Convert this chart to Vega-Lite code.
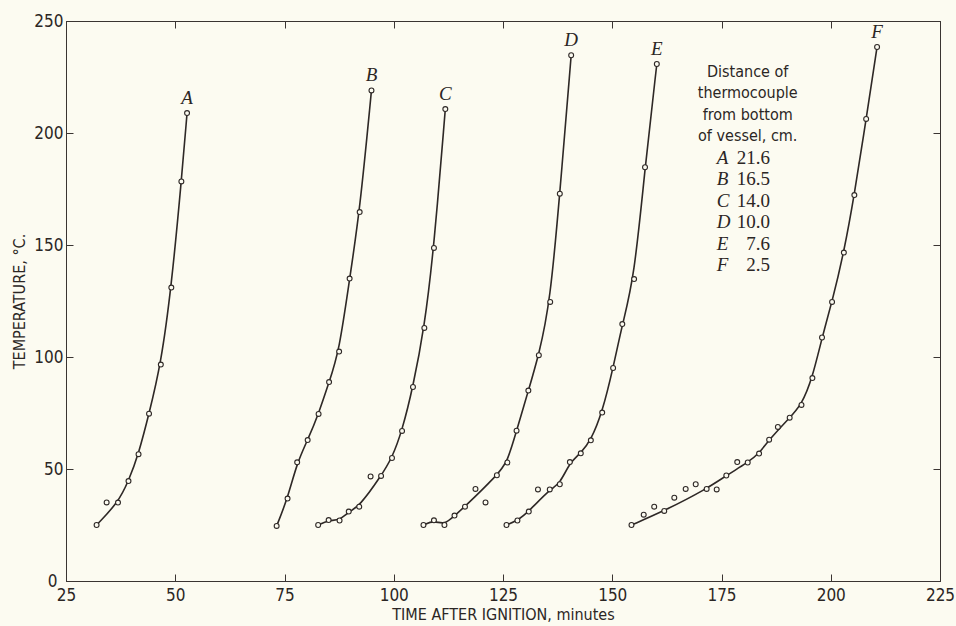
{
  "$schema": "https://vega.github.io/schema/vega-lite/v6.json",
  "width": 874,
  "height": 560,
  "autosize": {"type": "none"},
  "padding": {"left": 66, "top": 21, "right": 16, "bottom": 45},
  "background": "#fcfbf1",
  "config": {
    "view": {"stroke": "#3a3432", "strokeWidth": 1},
    "axis": {
      "domainColor": "#3a3432",
      "tickColor": "#3a3432",
      "labelColor": "#2b2624",
      "titleColor": "#2b2624",
      "labelFont": "DejaVu Sans Condensed",
      "titleFont": "DejaVu Sans Condensed",
      "labelFontSize": 17,
      "titleFontSize": 16,
      "titleFontWeight": "normal",
      "grid": false,
      "tickSize": -7,
      "labelFlush": false,
      "labelOverlap": false,
      "labelBound": false
    }
  },
  "datasets": {
    "pts": [
      {"curve": "A", "time": 32.0, "temp": 25.0, "fit": true},
      {"curve": "A", "time": 34.3, "temp": 35.1, "fit": false},
      {"curve": "A", "time": 36.9, "temp": 35.0, "fit": true},
      {"curve": "A", "time": 39.3, "temp": 44.6, "fit": true},
      {"curve": "A", "time": 41.6, "temp": 56.6, "fit": true},
      {"curve": "A", "time": 44.0, "temp": 74.7, "fit": true},
      {"curve": "A", "time": 46.7, "temp": 96.6, "fit": true},
      {"curve": "A", "time": 49.1, "temp": 131.0, "fit": true},
      {"curve": "A", "time": 51.4, "temp": 178.4, "fit": true},
      {"curve": "A", "time": 52.7, "temp": 208.9, "fit": true},

      {"curve": "B", "time": 73.2, "temp": 24.6, "fit": true},
      {"curve": "B", "time": 75.7, "temp": 36.8, "fit": true},
      {"curve": "B", "time": 77.9, "temp": 53.0, "fit": true},
      {"curve": "B", "time": 80.3, "temp": 62.9, "fit": true},
      {"curve": "B", "time": 82.8, "temp": 74.6, "fit": true},
      {"curve": "B", "time": 85.2, "temp": 88.8, "fit": true},
      {"curve": "B", "time": 87.5, "temp": 102.4, "fit": true},
      {"curve": "B", "time": 89.9, "temp": 135.0, "fit": true},
      {"curve": "B", "time": 92.2, "temp": 164.7, "fit": true},
      {"curve": "B", "time": 94.9, "temp": 219.0, "fit": true},

      {"curve": "C", "time": 82.7, "temp": 25.0, "fit": true},
      {"curve": "C", "time": 85.1, "temp": 27.2, "fit": true},
      {"curve": "C", "time": 87.6, "temp": 27.0, "fit": true},
      {"curve": "C", "time": 89.7, "temp": 31.0, "fit": true},
      {"curve": "C", "time": 92.1, "temp": 33.2, "fit": true},
      {"curve": "C", "time": 94.7, "temp": 46.7, "fit": false},
      {"curve": "C", "time": 97.1, "temp": 46.9, "fit": true},
      {"curve": "C", "time": 99.6, "temp": 54.9, "fit": true},
      {"curve": "C", "time": 101.9, "temp": 67.0, "fit": true},
      {"curve": "C", "time": 104.4, "temp": 86.6, "fit": true},
      {"curve": "C", "time": 107.0, "temp": 113.0, "fit": true},
      {"curve": "C", "time": 109.2, "temp": 148.7, "fit": true},
      {"curve": "C", "time": 111.8, "temp": 210.7, "fit": true},

      {"curve": "D", "time": 106.8, "temp": 25.0, "fit": true},
      {"curve": "D", "time": 109.2, "temp": 27.1, "fit": true},
      {"curve": "D", "time": 111.6, "temp": 25.0, "fit": true},
      {"curve": "D", "time": 113.9, "temp": 29.2, "fit": true},
      {"curve": "D", "time": 116.3, "temp": 33.2, "fit": true},
      {"curve": "D", "time": 118.7, "temp": 41.1, "fit": false},
      {"curve": "D", "time": 121.0, "temp": 35.1, "fit": false},
      {"curve": "D", "time": 123.6, "temp": 47.2, "fit": true},
      {"curve": "D", "time": 126.0, "temp": 52.9, "fit": true},
      {"curve": "D", "time": 128.1, "temp": 67.1, "fit": true},
      {"curve": "D", "time": 130.8, "temp": 85.0, "fit": true},
      {"curve": "D", "time": 133.2, "temp": 100.8, "fit": true},
      {"curve": "D", "time": 135.8, "temp": 124.6, "fit": true},
      {"curve": "D", "time": 138.0, "temp": 172.9, "fit": true},
      {"curve": "D", "time": 140.6, "temp": 234.7, "fit": true},

      {"curve": "E", "time": 125.8, "temp": 25.0, "fit": true},
      {"curve": "E", "time": 128.3, "temp": 27.0, "fit": true},
      {"curve": "E", "time": 130.9, "temp": 31.0, "fit": true},
      {"curve": "E", "time": 133.0, "temp": 40.9, "fit": false},
      {"curve": "E", "time": 135.7, "temp": 40.9, "fit": true},
      {"curve": "E", "time": 138.0, "temp": 43.2, "fit": true},
      {"curve": "E", "time": 140.3, "temp": 53.1, "fit": true},
      {"curve": "E", "time": 142.8, "temp": 57.0, "fit": true},
      {"curve": "E", "time": 145.1, "temp": 62.8, "fit": true},
      {"curve": "E", "time": 147.7, "temp": 75.2, "fit": true},
      {"curve": "E", "time": 150.2, "temp": 95.1, "fit": true},
      {"curve": "E", "time": 152.3, "temp": 114.7, "fit": true},
      {"curve": "E", "time": 155.0, "temp": 134.8, "fit": true},
      {"curve": "E", "time": 157.5, "temp": 184.7, "fit": true},
      {"curve": "E", "time": 160.2, "temp": 230.8, "fit": true},

      {"curve": "F", "time": 154.4, "temp": 25.0, "fit": true},
      {"curve": "F", "time": 157.2, "temp": 29.6, "fit": false},
      {"curve": "F", "time": 159.6, "temp": 33.2, "fit": false},
      {"curve": "F", "time": 161.9, "temp": 31.3, "fit": true},
      {"curve": "F", "time": 164.2, "temp": 37.2, "fit": false},
      {"curve": "F", "time": 166.8, "temp": 41.1, "fit": false},
      {"curve": "F", "time": 169.1, "temp": 43.2, "fit": false},
      {"curve": "F", "time": 171.6, "temp": 41.1, "fit": true},
      {"curve": "F", "time": 173.9, "temp": 40.9, "fit": false},
      {"curve": "F", "time": 176.1, "temp": 47.1, "fit": true},
      {"curve": "F", "time": 178.6, "temp": 53.1, "fit": false},
      {"curve": "F", "time": 181.0, "temp": 52.9, "fit": true},
      {"curve": "F", "time": 183.6, "temp": 56.9, "fit": true},
      {"curve": "F", "time": 185.9, "temp": 63.1, "fit": true},
      {"curve": "F", "time": 187.9, "temp": 68.8, "fit": false},
      {"curve": "F", "time": 190.6, "temp": 72.9, "fit": true},
      {"curve": "F", "time": 193.3, "temp": 78.6, "fit": true},
      {"curve": "F", "time": 195.8, "temp": 90.6, "fit": true},
      {"curve": "F", "time": 198.0, "temp": 108.7, "fit": true},
      {"curve": "F", "time": 200.3, "temp": 124.6, "fit": true},
      {"curve": "F", "time": 203.0, "temp": 146.6, "fit": true},
      {"curve": "F", "time": 205.4, "temp": 172.3, "fit": true},
      {"curve": "F", "time": 208.1, "temp": 206.3, "fit": true},
      {"curve": "F", "time": 210.6, "temp": 238.4, "fit": true}
    ],
    "legend": [
      {"row": 1, "kind": "head", "text": "Distance of"},
      {"row": 2, "kind": "head", "text": "thermocouple"},
      {"row": 3, "kind": "head", "text": "from bottom"},
      {"row": 4, "kind": "head", "text": "of vessel, cm."},
      {"row": 5, "kind": "item", "curve": "A", "distance": 21.6},
      {"row": 6, "kind": "item", "curve": "B", "distance": 16.5},
      {"row": 7, "kind": "item", "curve": "C", "distance": 14.0},
      {"row": 8, "kind": "item", "curve": "D", "distance": 10.0},
      {"row": 9, "kind": "item", "curve": "E", "distance": 7.6},
      {"row": 10, "kind": "item", "curve": "F", "distance": 2.5}
    ]
  },
  "layer": [
    {
      "layer": [
        {
          "data": {"name": "pts"},
          "transform": [{"filter": "datum.fit"}],
          "mark": {"type": "line", "interpolate": "basis", "color": "#2e2826", "strokeWidth": 1.6},
          "encoding": {
            "x": {"field": "time", "type": "quantitative",
                  "scale": {"domain": [25, 225], "nice": false, "zero": false},
                  "axis": {"orient": "bottom", "values": [25, 50, 75, 100, 125, 150, 175, 200, 225],
                           "title": "TIME AFTER IGNITION, minutes", "labelPadding": 13, "titlePadding": 3}},
            "y": {"field": "temp", "type": "quantitative",
                  "scale": {"domain": [0, 250], "nice": false, "zero": false},
                  "axis": {"orient": "left", "values": [0, 50, 100, 150, 200, 250],
                           "title": "TEMPERATURE, °C.",
                           "labelPadding": {"condition": {"test": "datum.value == 0", "value": 16}, "value": 10},
                           "titlePadding": 6}},
            "detail": {"field": "curve", "type": "nominal"}
          }
        },
        {
          "data": {"name": "pts"},
          "mark": {"type": "point", "shape": "circle", "filled": true, "fill": "#fcfbf1",
                   "stroke": "#2e2826", "strokeWidth": 1.1, "size": 24, "opacity": 1},
          "encoding": {
            "x": {"field": "time", "type": "quantitative", "axis": null},
            "y": {"field": "temp", "type": "quantitative", "axis": null}
          }
        },
        {
          "data": {"name": "pts"},
          "transform": [
            {"joinaggregate": [{"op": "max", "field": "temp", "as": "maxT"}], "groupby": ["curve"]},
            {"filter": "datum.temp == datum.maxT"}
          ],
          "mark": {"type": "text", "dy": -15, "font": "Liberation Serif", "fontStyle": "italic",
                   "fontSize": 19, "color": "#2b2624", "baseline": "middle", "align": "center"},
          "encoding": {
            "x": {"field": "time", "type": "quantitative",
                  "axis": {"orient": "top", "values": [25, 50, 75, 100, 125, 150, 175, 200, 225],
                           "labels": false, "title": null}},
            "y": {"field": "temp", "type": "quantitative",
                  "axis": {"orient": "right", "values": [0, 50, 100, 150, 200, 250],
                           "labels": false, "title": null}},
            "text": {"field": "curve", "type": "nominal"}
          }
        }
      ],
      "resolve": {"axis": {"x": "independent", "y": "independent"}}
    },
    {
      "data": {"name": "legend"},
      "encoding": {
        "y": {"field": "row", "type": "ordinal", "axis": null,
              "scale": {"type": "point", "range": [51, 244], "padding": 0}}
      },
      "layer": [
        {
          "transform": [{"filter": "datum.kind == 'head'"}],
          "mark": {"type": "text", "font": "DejaVu Sans Condensed", "fontSize": 16,
                   "color": "#2b2624", "align": "center", "baseline": "middle"},
          "encoding": {
            "x": {"datum": 181, "type": "quantitative", "axis": null},
            "text": {"field": "text", "type": "nominal"}
          }
        },
        {
          "transform": [{"filter": "datum.kind == 'item'"}],
          "mark": {"type": "text", "font": "Liberation Serif", "fontStyle": "italic", "fontSize": 19,
                   "color": "#2b2624", "align": "left", "baseline": "middle"},
          "encoding": {
            "x": {"datum": 173.9, "type": "quantitative", "axis": null},
            "text": {"field": "curve", "type": "nominal"}
          }
        },
        {
          "transform": [{"filter": "datum.kind == 'item'"}],
          "mark": {"type": "text", "font": "Liberation Serif", "fontSize": 19,
                   "color": "#2b2624", "align": "right", "baseline": "middle"},
          "encoding": {
            "x": {"datum": 186.1, "type": "quantitative", "axis": null},
            "text": {"field": "distance", "type": "quantitative", "format": ".1f"}
          }
        }
      ]
    }
  ],
  "resolve": {"scale": {"y": "independent"}}
}
